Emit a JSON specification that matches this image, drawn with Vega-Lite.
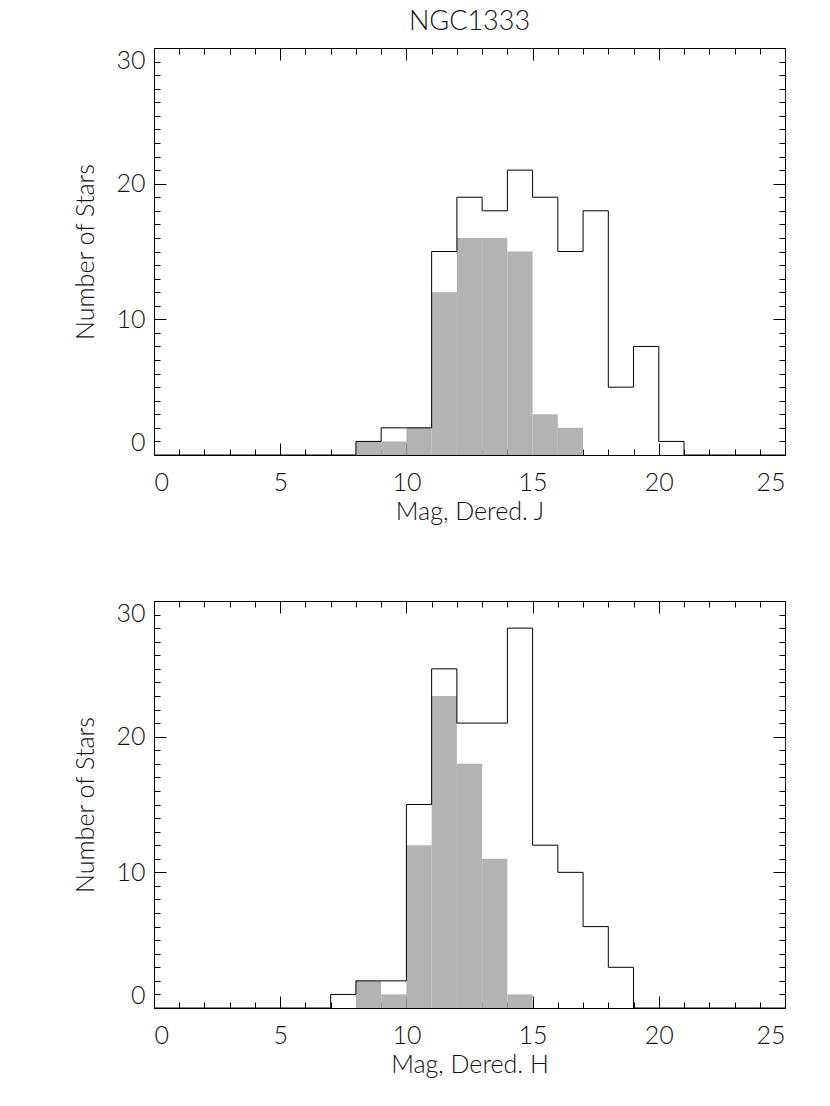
{
  "$schema": "https://vega.github.io/schema/vega-lite/v6.json",
  "background": "white",
  "padding": {"left": 73, "top": 7, "right": 5, "bottom": 5},
  "datasets": {
    "gJ": [
      {"lo": 8, "hi": 9, "n": 1}, {"lo": 9, "hi": 10, "n": 1}, {"lo": 10, "hi": 11, "n": 2},
      {"lo": 11, "hi": 12, "n": 12}, {"lo": 12, "hi": 13, "n": 16}, {"lo": 13, "hi": 14, "n": 16},
      {"lo": 14, "hi": 15, "n": 15}, {"lo": 15, "hi": 16, "n": 3}, {"lo": 16, "hi": 17, "n": 2}
    ],
    "oJ": [
      {"x": 0, "n": 0}, {"x": 1, "n": 0}, {"x": 2, "n": 0}, {"x": 3, "n": 0}, {"x": 4, "n": 0},
      {"x": 5, "n": 0}, {"x": 6, "n": 0}, {"x": 7, "n": 0}, {"x": 8, "n": 1}, {"x": 9, "n": 2},
      {"x": 10, "n": 2}, {"x": 11, "n": 15}, {"x": 12, "n": 19}, {"x": 13, "n": 18}, {"x": 14, "n": 21},
      {"x": 15, "n": 19}, {"x": 16, "n": 15}, {"x": 17, "n": 18}, {"x": 18, "n": 5}, {"x": 19, "n": 8},
      {"x": 20, "n": 1}, {"x": 21, "n": 0}, {"x": 22, "n": 0}, {"x": 23, "n": 0}, {"x": 24, "n": 0},
      {"x": 25, "n": 0}
    ],
    "gH": [
      {"lo": 8, "hi": 9, "n": 2}, {"lo": 9, "hi": 10, "n": 1}, {"lo": 10, "hi": 11, "n": 12},
      {"lo": 11, "hi": 12, "n": 23}, {"lo": 12, "hi": 13, "n": 18}, {"lo": 13, "hi": 14, "n": 11},
      {"lo": 14, "hi": 15, "n": 1}
    ],
    "oH": [
      {"x": 0, "n": 0}, {"x": 1, "n": 0}, {"x": 2, "n": 0}, {"x": 3, "n": 0}, {"x": 4, "n": 0},
      {"x": 5, "n": 0}, {"x": 6, "n": 0}, {"x": 7, "n": 1}, {"x": 8, "n": 2}, {"x": 9, "n": 2},
      {"x": 10, "n": 15}, {"x": 11, "n": 25}, {"x": 12, "n": 21}, {"x": 13, "n": 21}, {"x": 14, "n": 28},
      {"x": 15, "n": 12}, {"x": 16, "n": 10}, {"x": 17, "n": 6}, {"x": 18, "n": 3}, {"x": 19, "n": 0},
      {"x": 20, "n": 0}, {"x": 21, "n": 0}, {"x": 22, "n": 0}, {"x": 23, "n": 0}, {"x": 24, "n": 0},
      {"x": 25, "n": 0}
    ]
  },
  "spacing": 75,
  "vconcat": [
    {
      "width": 631,
      "height": 407,
      "title": {"text": "NGC1333", "frame": "group", "anchor": "middle", "fontSize": 27, "font": "Lato", "fontWeight": 300, "color": "#111111", "offset": 12},
      "resolve": {"axis": {"x": "independent", "y": "independent"}},
      "layer": [
        {
          "data": {"name": "gJ"},
          "mark": {"type": "rect", "fill": "#b3b3b3"},
          "encoding": {
            "x": {"field": "lo", "type": "quantitative", "scale": {"domain": [0, 25], "nice": false, "zero": false},
                  "axis": {"orient": "bottom", "ticks": false, "values": [0, 5, 10, 15, 20, 25], "labelPadding": 15, "title": "Mag, Dered. J", "titlePadding": 4}},
            "x2": {"field": "hi"},
            "y": {"field": "n", "type": "quantitative", "scale": {"domain": [0, 30], "nice": false},
                  "axis": {"orient": "left", "ticks": false, "values": [0, 10, 20, 30], "labelFlush": true, "labelPadding": 9, "title": "Number of Stars", "titlePadding": 17}}
          }
        },
        {
          "data": {"name": "oJ"},
          "mark": {"type": "line", "interpolate": "step-after", "color": "black", "strokeWidth": 1},
          "encoding": {
            "x": {"field": "x", "type": "quantitative", "axis": {"orient": "bottom", "labels": false, "tickSize": -12, "values": [0, 5, 10, 15, 20, 25], "title": null}},
            "y": {"field": "n", "type": "quantitative", "axis": {"orient": "left", "labels": false, "tickSize": -12, "values": [0, 10, 20, 30], "title": null}}
          }
        },
        {
          "data": {"name": "oJ"},
          "mark": {"type": "line", "interpolate": "step-after", "strokeOpacity": 0},
          "encoding": {
            "x": {"field": "x", "type": "quantitative", "axis": {"orient": "bottom", "labels": false, "tickSize": -6, "values": [1,2,3,4,6,7,8,9,11,12,13,14,16,17,18,19,21,22,23,24], "title": null}},
            "y": {"field": "n", "type": "quantitative", "axis": {"orient": "left", "labels": false, "tickSize": -6, "values": [1,2,3,4,5,6,7,8,9,11,12,13,14,15,16,17,18,19,21,22,23,24,25,26,27,28,29], "title": null}}
          }
        },
        {
          "data": {"name": "oJ"},
          "mark": {"type": "line", "interpolate": "step-after", "strokeOpacity": 0},
          "encoding": {
            "x": {"field": "x", "type": "quantitative", "axis": {"orient": "top", "labels": false, "tickSize": -12, "values": [0, 5, 10, 15, 20, 25], "title": null}},
            "y": {"field": "n", "type": "quantitative", "axis": {"orient": "right", "labels": false, "tickSize": -12, "values": [0, 10, 20, 30], "title": null}}
          }
        },
        {
          "data": {"name": "oJ"},
          "mark": {"type": "line", "interpolate": "step-after", "strokeOpacity": 0},
          "encoding": {
            "x": {"field": "x", "type": "quantitative", "axis": {"orient": "top", "labels": false, "tickSize": -6, "values": [1,2,3,4,6,7,8,9,11,12,13,14,16,17,18,19,21,22,23,24], "title": null}},
            "y": {"field": "n", "type": "quantitative", "axis": {"orient": "right", "labels": false, "tickSize": -6, "values": [1,2,3,4,5,6,7,8,9,11,12,13,14,15,16,17,18,19,21,22,23,24,25,26,27,28,29], "title": null}}
          }
        }
      ]
    },
    {
      "width": 631,
      "height": 407,
      "resolve": {"axis": {"x": "independent", "y": "independent"}},
      "layer": [
        {
          "data": {"name": "gH"},
          "mark": {"type": "rect", "fill": "#b3b3b3"},
          "encoding": {
            "x": {"field": "lo", "type": "quantitative", "scale": {"domain": [0, 25], "nice": false, "zero": false},
                  "axis": {"orient": "bottom", "ticks": false, "values": [0, 5, 10, 15, 20, 25], "labelPadding": 15, "title": "Mag, Dered. H", "titlePadding": 4}},
            "x2": {"field": "hi"},
            "y": {"field": "n", "type": "quantitative", "scale": {"domain": [0, 30], "nice": false},
                  "axis": {"orient": "left", "ticks": false, "values": [0, 10, 20, 30], "labelFlush": true, "labelPadding": 9, "title": "Number of Stars", "titlePadding": 17}}
          }
        },
        {
          "data": {"name": "oH"},
          "mark": {"type": "line", "interpolate": "step-after", "color": "black", "strokeWidth": 1},
          "encoding": {
            "x": {"field": "x", "type": "quantitative", "axis": {"orient": "bottom", "labels": false, "tickSize": -12, "values": [0, 5, 10, 15, 20, 25], "title": null}},
            "y": {"field": "n", "type": "quantitative", "axis": {"orient": "left", "labels": false, "tickSize": -12, "values": [0, 10, 20, 30], "title": null}}
          }
        },
        {
          "data": {"name": "oH"},
          "mark": {"type": "line", "interpolate": "step-after", "strokeOpacity": 0},
          "encoding": {
            "x": {"field": "x", "type": "quantitative", "axis": {"orient": "bottom", "labels": false, "tickSize": -6, "values": [1,2,3,4,6,7,8,9,11,12,13,14,16,17,18,19,21,22,23,24], "title": null}},
            "y": {"field": "n", "type": "quantitative", "axis": {"orient": "left", "labels": false, "tickSize": -6, "values": [1,2,3,4,5,6,7,8,9,11,12,13,14,15,16,17,18,19,21,22,23,24,25,26,27,28,29], "title": null}}
          }
        },
        {
          "data": {"name": "oH"},
          "mark": {"type": "line", "interpolate": "step-after", "strokeOpacity": 0},
          "encoding": {
            "x": {"field": "x", "type": "quantitative", "axis": {"orient": "top", "labels": false, "tickSize": -12, "values": [0, 5, 10, 15, 20, 25], "title": null}},
            "y": {"field": "n", "type": "quantitative", "axis": {"orient": "right", "labels": false, "tickSize": -12, "values": [0, 10, 20, 30], "title": null}}
          }
        },
        {
          "data": {"name": "oH"},
          "mark": {"type": "line", "interpolate": "step-after", "strokeOpacity": 0},
          "encoding": {
            "x": {"field": "x", "type": "quantitative", "axis": {"orient": "top", "labels": false, "tickSize": -6, "values": [1,2,3,4,6,7,8,9,11,12,13,14,16,17,18,19,21,22,23,24], "title": null}},
            "y": {"field": "n", "type": "quantitative", "axis": {"orient": "right", "labels": false, "tickSize": -6, "values": [1,2,3,4,5,6,7,8,9,11,12,13,14,15,16,17,18,19,21,22,23,24,25,26,27,28,29], "title": null}}
          }
        }
      ]
    }
  ],
  "config": {
    "view": {"stroke": "black", "strokeWidth": 1},
    "axis": {
      "domain": false,
      "grid": false,
      "tickColor": "black",
      "tickWidth": 1,
      "labelFont": "Lato",
      "labelFontWeight": 300,
      "labelFontSize": 25,
      "labelColor": "#111111",
      "titleFont": "Lato",
      "titleFontWeight": 300,
      "titleFontSize": 25,
      "titleColor": "#111111"
    }
  }
}
